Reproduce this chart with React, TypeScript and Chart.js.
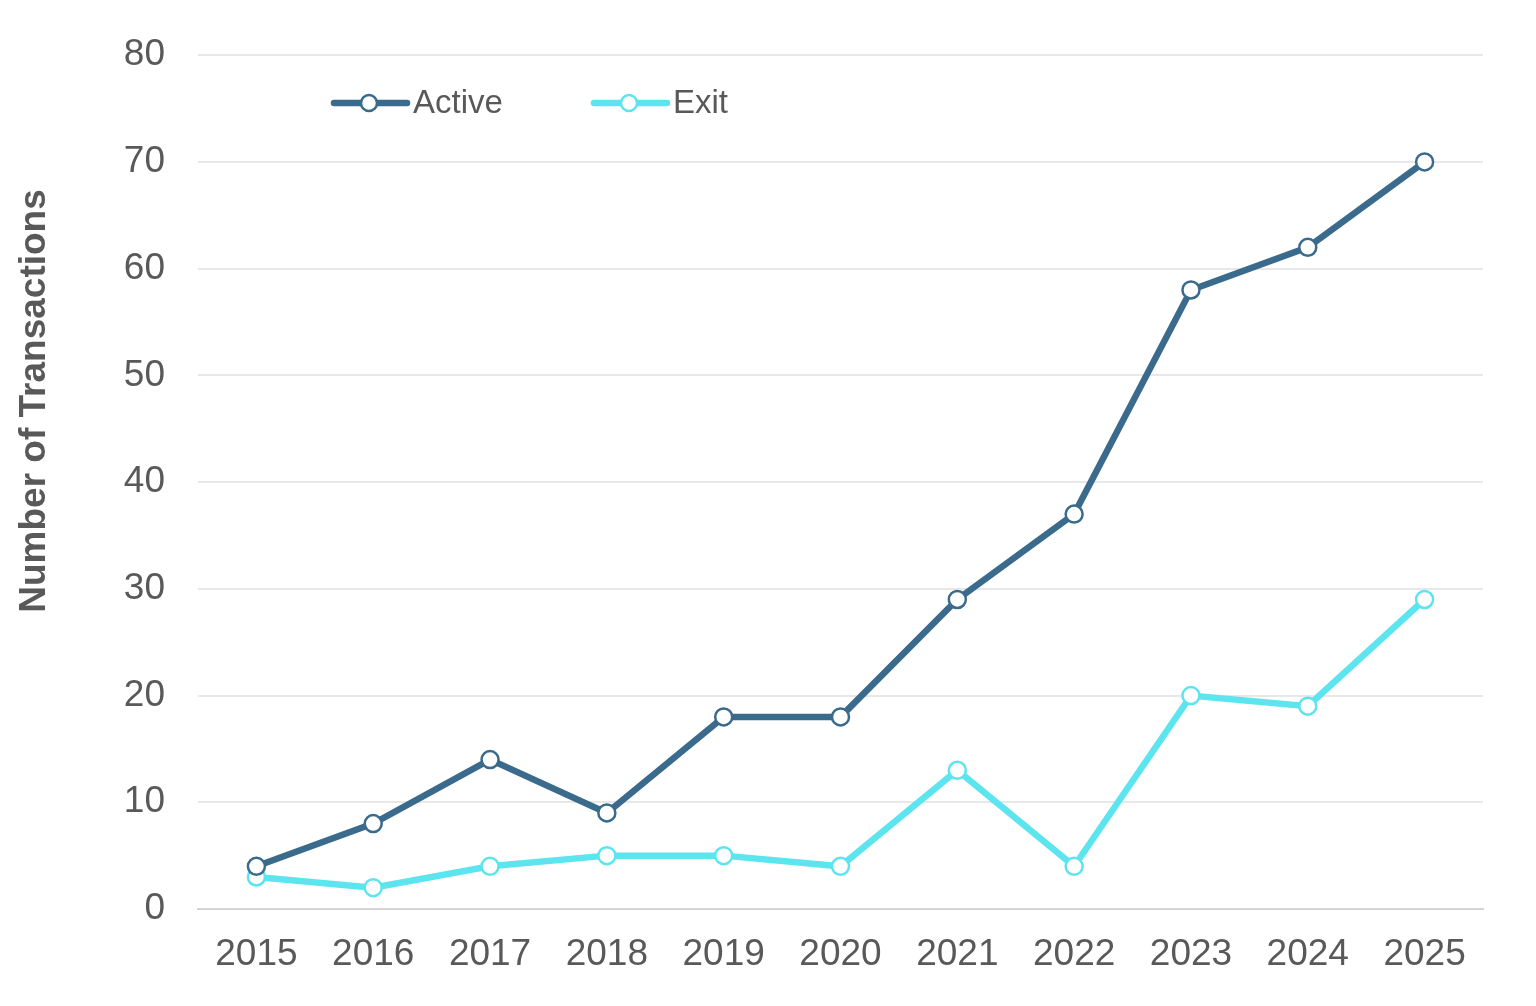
import React, { useEffect, useRef } from "react";
import { Chart, registerables } from "chart.js";

Chart.register(...registerables);

const years = ["2015", "2016", "2017", "2018", "2019", "2020", "2021", "2022", "2023", "2024", "2025"];
const activeValues = [4, 8, 14, 9, 18, 18, 29, 37, 58, 62, 70];
const exitValues = [3, 2, 4, 5, 5, 4, 13, 4, 20, 19, 29];
const seriesNames = ["Active", "Exit"];
const seriesColors = ["#3a6a8c", "#5ce4ef"];
const yTitle = "Number of Transactions";

const FONT = "'Liberation Sans', Arial, Helvetica, sans-serif";
const TEXT = "#595959";

const legendPlugin = {
  id: "lineLegend",
  afterDraw(chart: any) {
    const ctx = chart.ctx;
    const items = [
      { x: 334, label: seriesNames[0], color: seriesColors[0] },
      { x: 594, label: seriesNames[1], color: seriesColors[1] },
    ];
    const y = 103;
    ctx.save();
    items.forEach((it) => {
      ctx.strokeStyle = it.color;
      ctx.lineWidth = 6.5;
      ctx.lineCap = "round";
      ctx.beginPath();
      ctx.moveTo(it.x, y);
      ctx.lineTo(it.x + 73, y);
      ctx.stroke();
      ctx.beginPath();
      ctx.arc(it.x + 35, y, 8, 0, Math.PI * 2);
      ctx.fillStyle = "#ffffff";
      ctx.fill();
      ctx.lineWidth = 2.5;
      ctx.stroke();
      ctx.fillStyle = TEXT;
      ctx.font = `33px ${FONT}`;
      ctx.textBaseline = "middle";
      ctx.textAlign = "left";
      ctx.fillText(it.label, it.x + 79, y + 1);
    });
    // y-axis title
    ctx.translate(35, 401);
    ctx.rotate(-Math.PI / 2);
    ctx.fillStyle = TEXT;
    ctx.font = `bold 37px ${FONT}`;
    ctx.textAlign = "center";
    ctx.textBaseline = "middle";
    ctx.fillText(yTitle, 0, 0);
    ctx.restore();
  },
};

export default function App() {
  const ref = useRef<HTMLCanvasElement | null>(null);
  useEffect(() => {
    if (!ref.current) return;
    const chart = new Chart(ref.current, {
      type: "line",
      data: {
        labels: years,
        datasets: [activeValues, exitValues].map((vals, i) => ({
          label: seriesNames[i],
          data: vals,
          borderColor: seriesColors[i],
          backgroundColor: seriesColors[i],
          borderWidth: 6.5,
          pointRadius: 8.5,
          pointBorderWidth: 2.5,
          pointBackgroundColor: "#ffffff",
          pointBorderColor: seriesColors[i],
          tension: 0,
        })),
      },
      options: {
        animation: false,
        responsive: false,
        layout: { padding: { top: 55, right: 53, left: 0, bottom: 0 } },
        plugins: { legend: { display: false }, tooltip: { enabled: false } },
        scales: {
          x: {
            offset: true,
            grid: { display: false, drawTicks: false },
            border: { display: true, color: "#d4d4d4", width: 2 },
            ticks: { color: TEXT, font: { family: FONT, size: 37 }, padding: 24, maxRotation: 0 },
            afterFit: (s: any) => { s.height = 1006 - 909; },
          },
          y: {
            min: 0,
            max: 80,
            ticks: { stepSize: 10, color: TEXT, font: { family: FONT, size: 37 }, padding: 33 },
            grid: { color: "#e8e8e8", lineWidth: 2, drawTicks: false },
            border: { display: false },
            title: { display: false },
            afterFit: (s: any) => { s.width = 198; },
          },
        },
      },
      plugins: [legendPlugin],
    } as any);
    return () => chart.destroy();
  }, []);
  return (
    <div style={{ position: "fixed", left: 0, top: 0, width: 1536, height: 1006, background: "#fff" }}>
      <canvas ref={ref} width={1536} height={1006} style={{ display: "block" }} />
    </div>
  );
}
